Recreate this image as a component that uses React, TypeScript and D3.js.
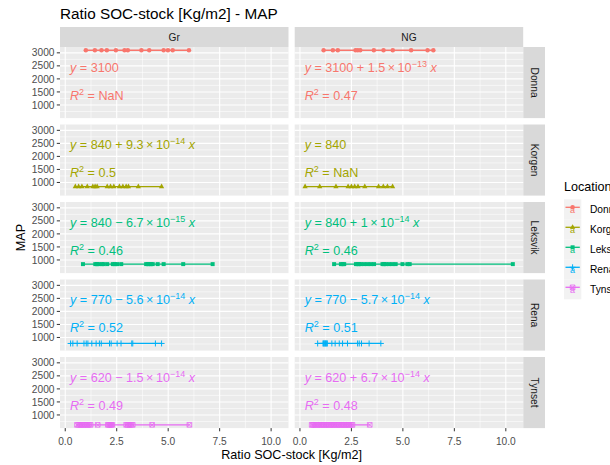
import React from "react";
import * as d3 from "d3";

const locations = ["Donna", "Korgen", "Leksvik", "Rena", "Tynset"];
const groups = ["Gr", "NG"];
const colors = ["#F8766D", "#A3A500", "#00BF7D", "#00B0F6", "#E76BF3"];
const mapValues = [3100, 840, 840, 770, 620];

const donnaGr = [1.0, 1.44, 1.76, 2.02, 2.46, 2.88, 3.04, 3.7, 4.08, 4.78, 4.99, 5.22, 6.01];
const donnaNG = [1.15, 1.6, 1.84, 2.7, 2.81, 2.93, 3.59, 4.06, 4.51, 5.4, 6.2, 6.48];
const korgenGr = [0.49, 0.65, 0.81, 1.07, 1.34, 1.45, 1.55, 2.04, 2.2, 2.36, 2.63, 2.8, 2.96, 3.07, 3.55, 4.68];
const korgenNG = [0.25, 0.96, 1.75, 2.34, 2.5, 2.66, 2.82, 3.15, 3.82, 4.05, 4.25, 4.5];
const leksvikGr = [0.86, 1.46, 1.54, 1.62, 1.78, 1.86, 2.04, 2.31, 2.4, 2.52, 2.72, 3.93, 4.01, 4.09, 4.17, 4.25, 4.49, 4.78, 5.73, 7.16];
const leksvikNG = [1.66, 1.99, 2.07, 2.15, 2.72, 2.8, 2.88, 2.96, 3.12, 3.28, 3.44, 3.6, 4.01, 4.09, 4.17, 4.33, 4.49, 4.65, 4.98, 5.22, 5.33, 10.34];
const renaGr = [0.26, 0.37, 0.58, 0.91, 1.02, 1.1, 1.29, 1.5, 1.66, 1.75, 2.15, 2.23, 2.52, 2.71, 3.23, 3.28, 4.38, 4.68];
const renaNG = [0.86, 1.12, 1.15, 1.18, 1.21, 1.24, 1.27, 1.3, 1.33, 1.55, 1.71, 1.91, 2.07, 2.31, 2.8, 2.88, 2.99, 3.36, 3.93];
const tynsetGr = [0.57, 0.65, 0.73, 0.81, 0.89, 0.98, 1.07, 1.15, 1.23, 1.58, 2.07, 2.13, 2.18, 2.23, 2.28, 2.96, 3.04, 3.12, 3.2, 3.28, 4.22, 6.03];
const tynsetNG = [0.57, 0.63, 0.7, 0.78, 0.86, 0.94, 1.02, 1.1, 1.18, 1.26, 1.34, 1.42, 1.5, 1.58, 1.66, 1.74, 1.83, 1.91, 1.99, 2.07, 2.15, 2.23, 2.31, 2.39, 2.47, 2.55, 3.39];

const ratioData = [
  [donnaGr, donnaNG],
  [korgenGr, korgenNG],
  [leksvikGr, leksvikNG],
  [renaGr, renaNG],
  [tynsetGr, tynsetNG],
];

const eqIntercepts = [
  ["3100", "3100"],
  ["840", "840"],
  ["840", "840"],
  ["770", "770"],
  ["620", "620"],
];
const eqSlopeSign = [
  ["", "+"],
  ["+", ""],
  ["\u2212", "+"],
  ["\u2212", "\u2212"],
  ["\u2212", "+"],
];
const eqSlopeMantissa = [
  ["", "1.5"],
  ["9.3", ""],
  ["6.7", "1"],
  ["5.6", "5.7"],
  ["1.5", "6.7"],
];
const eqSlopeExp = [
  ["", "\u221213"],
  ["\u221214", ""],
  ["\u221215", "\u221214"],
  ["\u221214", "\u221214"],
  ["\u221214", "\u221214"],
];
const r2Labels = [
  ["NaN", "0.47"],
  ["0.5", "NaN"],
  ["0.46", "0.46"],
  ["0.52", "0.51"],
  ["0.49", "0.48"],
];

const xTicks = [0, 2.5, 5, 7.5, 10];
const xMinor = [1.25, 3.75, 6.25, 8.75];
const yTicks = [1000, 1500, 2000, 2500, 3000];
const yMinor = [750, 1250, 1750, 2250, 2750];

const FONT = "'Liberation Sans', Arial, sans-serif";
const W = 610;
const H = 465;
const panelLefts = [60, 294.7];
const panelW = 228.5;
const panelTop0 = 47;
const panelH = 71.1;
const gapY = 6.4;
const stripH = 20;
const stripW = 21.8;

function Shape({ kind, x, y, color }: { kind: number; x: number; y: number; color: string }) {
  if (kind === 0) {
    return <path d={d3.symbol(d3.symbolCircle, 16)() as string} transform={`translate(${x},${y})`} fill={color} />;
  }
  if (kind === 1) {
    return <path d={d3.symbol(d3.symbolTriangle, 12)() as string} transform={`translate(${x},${y})`} fill={color} />;
  }
  if (kind === 2) {
    return <path d={d3.symbol(d3.symbolSquare, 16)() as string} transform={`translate(${x},${y})`} fill={color} />;
  }
  if (kind === 3) {
    return (
      <path
        d={`M${x - 3},${y}H${x + 3}M${x},${y - 3}V${y + 3}`}
        stroke={color}
        strokeWidth={1}
        fill="none"
      />
    );
  }
  const s = 2.3;
  return (
    <path
      d={`M${x - s},${y - s}H${x + s}V${y + s}H${x - s}ZM${x - s},${y - s}L${x + s},${y + s}M${x + s},${y - s}L${x - s},${y + s}`}
      stroke={color}
      strokeWidth={0.8}
      fill="none"
    />
  );
}

export default function App() {
  const allX = ratioData.flat(2);
  const xmin = d3.min(allX) as number;
  const xmax = d3.max(allX) as number;
  const xr = xmax - xmin;
  const ymin = d3.min(mapValues) as number;
  const ymax = d3.max(mapValues) as number;
  const yr = ymax - ymin;

  const xScales = panelLefts.map((l) =>
    d3.scaleLinear().domain([xmin - 0.05 * xr, xmax + 0.05 * xr]).range([l, l + panelW])
  );
  const panelTops = locations.map((_, i) => panelTop0 + i * (panelH + gapY));
  const yScales = panelTops.map((t) =>
    d3.scaleLinear().domain([ymin - 0.05 * yr, ymax + 0.05 * yr]).range([t + panelH, t])
  );
  const bottom = panelTops[4] + panelH;

  return (
    <svg
      width={W}
      height={H}
      style={{ position: "absolute", left: 0, top: 0, background: "#fff" }}
      fontFamily={FONT}
    >
      <rect x={0} y={0} width={W} height={H} fill="#fff" />
      <text x={60} y={18.5} fontSize={15.3} fill="#000">
        Ratio SOC-stock [Kg/m2] - MAP
      </text>

      {groups.map((g, j) => (
        <g key={g}>
          <rect x={panelLefts[j]} y={panelTop0 - stripH} width={panelW} height={stripH} fill="#D9D9D9" />
          <text
            x={panelLefts[j] + panelW / 2}
            y={panelTop0 - stripH / 2 + 3.6}
            textAnchor="middle"
            fontSize={10.2}
            fill="#1A1A1A"
          >
            {g}
          </text>
        </g>
      ))}

      {locations.map((loc, i) => {
        const yS = yScales[i];
        const top = panelTops[i];
        return (
          <g key={loc}>
            <rect x={panelLefts[1] + panelW} y={top} width={stripW} height={panelH} fill="#D9D9D9" />
            <text
              transform={`translate(${panelLefts[1] + panelW + stripW / 2 - 3.6},${top + panelH / 2}) rotate(90)`}
              textAnchor="middle"
              fontSize={10.2}
              fill="#1A1A1A"
            >
              {loc}
            </text>
            {yTicks.map((t) => (
              <g key={t}>
                <line x1={panelLefts[0] - 3.2} x2={panelLefts[0]} y1={yS(t)} y2={yS(t)} stroke="#333333" strokeWidth={1} />
                <text x={panelLefts[0] - 5.5} y={yS(t) + 3.6} textAnchor="end" fontSize={10.2} fill="#4D4D4D">
                  {t}
                </text>
              </g>
            ))}
            {groups.map((g, j) => {
              const xS = xScales[j];
              const pts = ratioData[i][j];
              const yv = mapValues[i];
              const left = panelLefts[j];
              const col = colors[i];
              const eqX = left + 10;
              return (
                <g key={g}>
                  <rect x={left} y={top} width={panelW} height={panelH} fill="#EBEBEB" />
                  {yMinor.map((t) => (
                    <line key={"ym" + t} x1={left} x2={left + panelW} y1={yS(t)} y2={yS(t)} stroke="#fff" strokeWidth={0.55} />
                  ))}
                  {xMinor.map((t) => (
                    <line key={"xm" + t} x1={xS(t)} x2={xS(t)} y1={top} y2={top + panelH} stroke="#fff" strokeWidth={0.55} />
                  ))}
                  {yTicks.map((t) => (
                    <line key={"y" + t} x1={left} x2={left + panelW} y1={yS(t)} y2={yS(t)} stroke="#fff" strokeWidth={1.1} />
                  ))}
                  {xTicks.map((t) => (
                    <line key={"x" + t} x1={xS(t)} x2={xS(t)} y1={top} y2={top + panelH} stroke="#fff" strokeWidth={1.1} />
                  ))}
                  <text x={eqX} y={top + 24.5} fontSize={12.6} fill={col} style={{ whiteSpace: "pre" }}>
                    <tspan fontStyle="italic">y</tspan>
                    <tspan>{" = " + eqIntercepts[i][j]}</tspan>
                    {eqSlopeMantissa[i][j] !== "" && (
                      <>
                        <tspan>{" " + eqSlopeSign[i][j] + " " + eqSlopeMantissa[i][j] + "\u2009\u00D7\u200910"}</tspan>
                        <tspan dy={-5} fontSize={9}>
                          {eqSlopeExp[i][j]}
                        </tspan>
                        <tspan dy={5} fontStyle="italic">
                          {" x"}
                        </tspan>
                      </>
                    )}
                  </text>
                  <text x={eqX} y={top + 52.7} fontSize={12.6} fill={col} style={{ whiteSpace: "pre" }}>
                    <tspan fontStyle="italic">R</tspan>
                    <tspan dy={-5} fontSize={9}>
                      2
                    </tspan>
                    <tspan dy={5}>{" = " + r2Labels[i][j]}</tspan>
                  </text>
                  <line
                    x1={xS(d3.min(pts) as number)}
                    x2={xS(d3.max(pts) as number)}
                    y1={yS(yv)}
                    y2={yS(yv)}
                    stroke={col}
                    strokeWidth={1.3}
                  />
                  {pts.map((p, k) => (
                    <Shape key={k} kind={i} x={xS(p)} y={yS(yv)} color={col} />
                  ))}
                </g>
              );
            })}
          </g>
        );
      })}

      {groups.map((g, j) => (
        <g key={"xa" + g}>
          {xTicks.map((t) => (
            <g key={t}>
              <line x1={xScales[j](t)} x2={xScales[j](t)} y1={bottom} y2={bottom + 3.2} stroke="#333333" strokeWidth={1} />
              <text x={xScales[j](t)} y={bottom + 16.8} textAnchor="middle" fontSize={10.2} fill="#4D4D4D">
                {d3.format(".1f")(t)}
              </text>
            </g>
          ))}
        </g>
      ))}

      <text x={(panelLefts[0] + panelLefts[1] + panelW) / 2} y={459} textAnchor="middle" fontSize={12.6} fill="#000">
        Ratio SOC-stock [Kg/m2]
      </text>
      <text transform={`translate(25,${(panelTop0 + bottom) / 2}) rotate(-90)`} textAnchor="middle" fontSize={12.6} fill="#000">
        MAP
      </text>

      <text x={564} y={190.7} fontSize={12.6} fill="#000">
        Location
      </text>
      {locations.map((loc, i) => {
        const cy = 209.3 + i * 20;
        return (
          <g key={"lg" + loc}>
            <rect x={564} y={cy - 10} width={17.3} height={20} fill="#F2F2F2" />
            <line x1={565.5} x2={579.8} y1={cy - 2} y2={cy - 2} stroke={colors[i]} strokeWidth={1.3} />
            <Shape kind={i} x={572.6} y={cy - 2} color={colors[i]} />
            <text x={572.6} y={cy + 4} textAnchor="middle" fontSize={9} fill={colors[i]}>
              a
            </text>
            <text x={590} y={cy + 3.6} fontSize={10.2} fill="#000">
              {loc}
            </text>
          </g>
        );
      })}
    </svg>
  );
}
